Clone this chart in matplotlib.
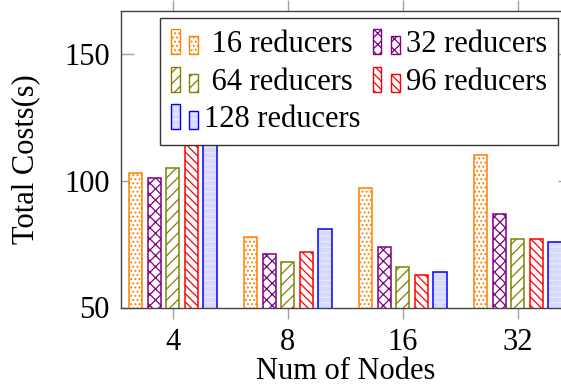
import matplotlib
matplotlib.use("Agg")
import matplotlib.pyplot as plt
from matplotlib.patches import Rectangle
from matplotlib.legend_handler import HandlerBase
import numpy as np

# ---- data ----
nodes = ["4", "8", "16", "32"]
series = ["16 reducers", "32 reducers", "64 reducers", "96 reducers", "128 reducers"]
r16 = [103, 78, 97, 110]
r32 = [101, 71, 74, 87]
r64 = [105, 68, 66, 77]
r96 = [119, 72, 63, 77]
r128 = [124, 81, 64, 76]
values = [r16, r32, r64, r96, r128]

# ---- styles ----
edge_colors = ["#ff8000", "#800080", "#808000", "#ff0000", "#0000ff"]
face_colors = ["white", "white", "white", "white", "#d8d8fd"]
hatch_colors = ["#ff8000", "#800080", "#808000", "#ff0000", "#e9e9fe"]
hatches = ["....", "xxx", "///", "\\\\\\\\", "---"]

plt.rcParams["font.family"] = ["Liberation Serif", "DejaVu Serif"]
plt.rcParams["hatch.linewidth"] = 0.9

FS = 22
W, H = 561, 387
fig = plt.figure(figsize=(W / 100, H / 100), dpi=100)

left, right, top, bottom = 121, 569.5, 11, 307.5
ax = fig.add_axes([left / W, 1 - bottom / H, (right - left) / W, (bottom - top) / H])

x = np.arange(len(nodes))
step = 0.161
width = 0.117


def draw_bar(axis, xs, hs, k, **kw):
    # pattern layer, then outline on top
    axis.bar(xs, hs, width, facecolor=face_colors[k], edgecolor=hatch_colors[k],
             hatch=hatches[k], linewidth=0, zorder=2, **kw)
    axis.bar(xs, hs, width, facecolor="none", edgecolor=edge_colors[k],
             linewidth=1.1, zorder=3, **kw)


for k, vals in enumerate(values):
    draw_bar(ax, x + (k - 2) * step, vals, k)

ax.set_xlim(-0.45, 3.45)
ax.set_ylim(50, 167)
ax.set_xticks(x)
ax.set_xticklabels(nodes)
ax.set_yticks([50, 100, 150])

for s in ax.spines.values():
    s.set_color("#444444")
    s.set_linewidth(1.0)

ax.tick_params(axis="x", direction="out", length=8, width=1, color="#a0a0a0",
               top=True, labelsize=FS, pad=7)
ax.tick_params(axis="y", direction="in", length=9, width=1, color="#a0a0a0",
               right=True, labelsize=FS, pad=8)

ax.set_xlabel("Num of Nodes", fontsize=FS, va="center")
ax.xaxis.set_label_coords(0.5, -0.2165)
ax.set_ylabel("Total Costs(s)", fontsize=FS, va="center")
ax.yaxis.set_label_coords(-0.212, 0.5)


class TwoBars(HandlerBase):
    def __init__(self, k):
        super().__init__()
        self.k = k

    def create_artists(self, legend, orig_handle, xdescent, ydescent, width,
                       height, fontsize, trans):
        k = self.k
        bw = width * 0.32
        arts = []
        for x0, h in ((0, height), (width - bw, height * 0.72)):
            fill = Rectangle((x0 - xdescent, -ydescent), bw, h,
                             facecolor=face_colors[k], edgecolor=hatch_colors[k],
                             hatch=hatches[k], linewidth=0, transform=trans)
            line = Rectangle((x0 - xdescent, -ydescent), bw, h,
                             facecolor="none", edgecolor=edge_colors[k],
                             linewidth=1.0, transform=trans)
            arts += [fill, line]
        return arts


proxies = [Rectangle((0, 0), 1, 1) for _ in series]
order = [0, 2, 4, 1, 3]
labels = [" 16 reducers", "32 reducers", " 64 reducers", "96 reducers", "128 reducers"]
leg = ax.legend([proxies[i] for i in order], [labels[i] for i in order],
                handler_map={proxies[i]: TwoBars(i) for i in range(5)},
                ncols=2, loc="upper right",
                bbox_to_anchor=(558 / W, 1 - 18 / H), bbox_transform=fig.transFigure,
                fontsize=FS, frameon=True, fancybox=False, framealpha=1,
                edgecolor="#333333", borderaxespad=0, borderpad=0.36,
                handlelength=0.88, handleheight=0.88, handletextpad=0.2,
                labelspacing=0.25, columnspacing=0.4)
leg.get_frame().set_linewidth(1.0)
leg.set_zorder(5)

fig.savefig("out.png", dpi=100)
